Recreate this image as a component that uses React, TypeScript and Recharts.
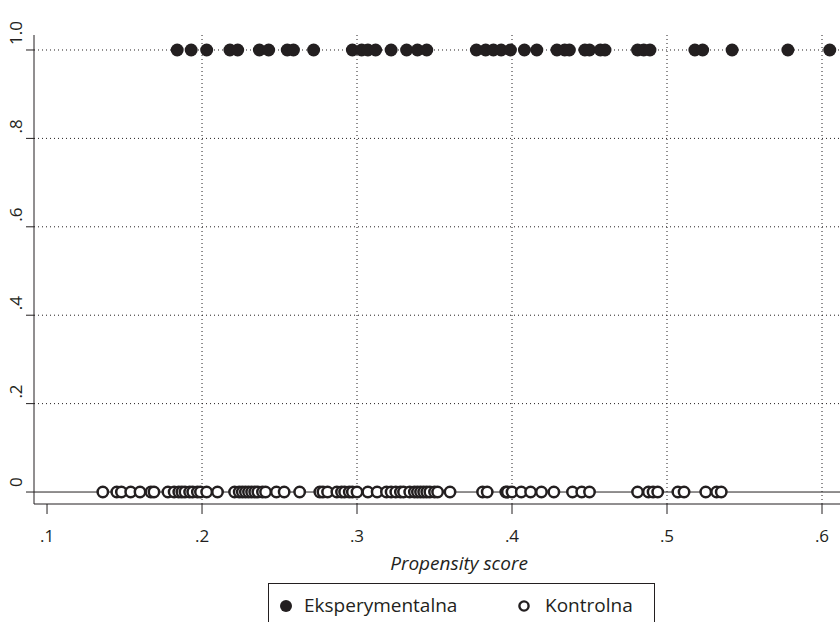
import React from 'react';
import { ScatterChart, Scatter, XAxis, YAxis, ReferenceLine, Label, Legend } from 'recharts';

// propensity scores, treated group (plotted at 1)
const treatedScores = [
  0.184, 0.193, 0.203, 0.218, 0.223, 0.237, 0.243, 0.255, 0.259, 0.272,
  0.297, 0.303, 0.307, 0.312, 0.322, 0.332, 0.339, 0.345, 0.377, 0.383,
  0.388, 0.393, 0.399, 0.408, 0.416, 0.429, 0.434, 0.437, 0.447, 0.450,
  0.457, 0.460, 0.481, 0.485, 0.489, 0.518, 0.523, 0.542, 0.578, 0.605,
];

// propensity scores, control group (plotted at 0)
const controlScores = [
  0.136, 0.145, 0.148, 0.154, 0.160, 0.167, 0.169, 0.178, 0.182, 0.185,
  0.187, 0.189, 0.192, 0.194, 0.197, 0.199, 0.203, 0.210, 0.221, 0.224,
  0.226, 0.228, 0.230, 0.232, 0.234, 0.236, 0.239, 0.241, 0.248, 0.253,
  0.263, 0.276, 0.278, 0.281, 0.287, 0.290, 0.292, 0.295, 0.297, 0.300,
  0.307, 0.313, 0.319, 0.322, 0.325, 0.328, 0.330, 0.334, 0.337, 0.339,
  0.341, 0.343, 0.345, 0.347, 0.350, 0.352, 0.360, 0.381, 0.384, 0.396,
  0.397, 0.400, 0.406, 0.412, 0.419, 0.427, 0.439, 0.445, 0.450, 0.481,
  0.488, 0.491, 0.494, 0.507, 0.511, 0.525, 0.532, 0.535,
];

const seriesNames = ['Eksperymentalna', 'Kontrolna'];
const xTicks = [0.1, 0.2, 0.3, 0.4, 0.5, 0.6];
const xTickLabels = ['.1', '.2', '.3', '.4', '.5', '.6'];
const yTicks = [0, 0.2, 0.4, 0.6, 0.8, 1];
const yTickLabels = ['0', '.2', '.4', '.6', '.8', '1.0'];
const gridX = [0.2, 0.3, 0.4, 0.5, 0.6];
const gridY = [0.2, 0.4, 0.6, 0.8, 1];

const INK = '#231f20';
const FONT = '"Open Sans", "Noto Sans", sans-serif';

const treated = treatedScores.map(x => ({ x, y: 1 }));
const control = controlScores.map(x => ({ x, y: 0 }));

const FilledDot = (props: any) => (
  <circle cx={props.cx} cy={props.cy} r={6.5} fill={INK} />
);

const HollowDot = (props: any) => (
  <circle cx={props.cx} cy={props.cy} r={5.2} fill="#fff" stroke={INK} strokeWidth={2.5} />
);

const YTick = (props: any) => {
  const { y, payload } = props;
  const label = yTickLabels[yTicks.indexOf(payload.value)];
  return (
    <text
      transform={`translate(22, ${y - 5}) rotate(-90)`}
      textAnchor="start"
      fill={INK}
      fontSize={17}
      fontFamily={FONT}
    >
      {label}
    </text>
  );
};

const LegendBox = (props: any) => {
  const items = props.payload || [];
  return (
    <div
      style={{
        width: 387,
        height: 48,
        border: `1px solid ${INK}`,
        boxSizing: 'border-box',
        position: 'relative',
        background: '#fff',
        fontFamily: FONT,
        fontSize: 19,
        color: INK,
      }}
    >
      {items.map((item: any, i: number) => {
        const markerX = i === 0 ? 17 : 255;
        const textX = i === 0 ? 35 : 276;
        return (
          <React.Fragment key={item.value}>
            <svg width={16} height={16} style={{ position: 'absolute', left: markerX - 8, top: 14 }}>
              {i === 0 ? (
                <circle cx={8} cy={8} r={6} fill={INK} />
              ) : (
                <circle cx={8} cy={8} r={4.6} fill="#fff" stroke={INK} strokeWidth={2.4} />
              )}
            </svg>
            <span style={{ position: 'absolute', left: textX, top: 8, lineHeight: '26px', whiteSpace: 'nowrap' }}>
              {item.value}
            </span>
          </React.Fragment>
        );
      })}
    </div>
  );
};

export default function App() {
  return (
    <div style={{ position: 'absolute', left: 0, top: 0, width: 840, height: 622, overflow: 'hidden', background: '#fff' }}>
      <ScatterChart width={884} height={622} margin={{ top: 35, right: 0, bottom: 52, left: 0 }}>
        {gridX.map(v => (
          <ReferenceLine key={`gx${v}`} x={v} stroke={INK} strokeDasharray="1 3" strokeWidth={1} />
        ))}
        {gridY.map(v => (
          <ReferenceLine key={`gy${v}`} y={v} stroke={INK} strokeDasharray="1 3" strokeWidth={1} />
        ))}
        <ReferenceLine y={0} stroke={INK} strokeWidth={1} />
        <XAxis
          type="number"
          dataKey="x"
          domain={[0.0916, 0.64]}
          ticks={xTicks}
          tickFormatter={(v: number) => xTickLabels[xTicks.indexOf(v)]}
          allowDataOverflow
          height={66}
          tickSize={10}
          tickMargin={16}
          stroke={INK}
          tick={{ fill: INK, fontSize: 17, fontFamily: FONT }}
        >
          <Label
            value="Propensity score"
            position="insideBottom"
            offset={0}
            style={{ fill: INK, fontSize: 19, fontStyle: 'italic', fontFamily: FONT }}
          />
        </XAxis>
        <YAxis
          type="number"
          dataKey="y"
          domain={[-0.0271, 1.0339]}
          ticks={yTicks}
          allowDataOverflow
          width={34}
          tickSize={8}
          stroke={INK}
          tick={<YTick />}
        />
        <Legend
          verticalAlign="middle"
          align="center"
          content={<LegendBox />}
          wrapperStyle={{ left: 268, top: 583, width: 387 }}
        />
        <Scatter name={seriesNames[1]} data={control} shape={<HollowDot />} isAnimationActive={false} />
        <Scatter name={seriesNames[0]} data={treated} shape={<FilledDot />} isAnimationActive={false} />
      </ScatterChart>
    </div>
  );
}
